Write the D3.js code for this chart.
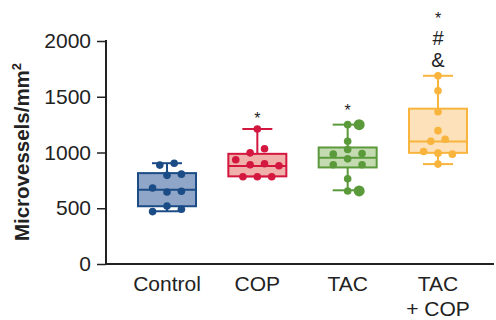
<!doctype html>
<html>
<head>
<meta charset="UTF-8">
<script src="https://d3js.org/d3.v7.min.js"></script>
<style>
  body { margin: 0; background: #fff; }
  text { font-family: "Liberation Sans", Arial, sans-serif; }
</style>
</head>
<body>
<script>
  var width = 496, height = 320;

  var groups = ["Control", "COP", "TAC", "TAC + COP"];
  // box stats: [whiskerLow, q1, median, q3, whiskerHigh]
  var stats = [
    [473, 518, 667, 815, 904],
    [786, 786, 878, 988, 1211],
    [661, 866, 952, 1045, 1250],
    [896, 997, 1098, 1393, 1688]
  ];
  // individual values and their jitter lane
  var pointsControl = [887, 904, 795, 806, 681, 646, 652, 520, 491, 470];
  var lanesControl  = [-1, 1, 0, 2, -2, 0, 2, 0, 2, -2];
  var pointsCOP = [1211, 997, 1033, 935, 890, 899, 881, 783, 783, 783];
  var lanesCOP  = [0, -1, 1, -3, -1, 1, 3, -2, 0, 2];
  var pointsTAC = [1250, 1101, 1027, 985, 991, 943, 890, 890, 765, 655];
  var lanesTAC  = [0, 0, 0, -2, 2, 0, -2, 2, 0, 0];
  var bigTAC = [1250, 655];
  var pointsTC = [1688, 1554, 1366, 1196, 1101, 1119, 1009, 994, 985, 896];
  var lanesTC  = [0, 0, 0, 0, -1, 1, -2, 0, 2, 0];
  var marks = [[], ["*"], ["*"], ["*", "#", "&"]];

  var strokes = ["#1b4c86", "#d3173f", "#5b9a3b", "#f8b43c"];
  var fills = ["#90a6c8", "#efb1aa", "#c4dbb2", "#fde1bb"];

  var pts = [
    pointsControl.map(function (v, i) { return { v: v, l: lanesControl[i] }; }),
    pointsCOP.map(function (v, i) { return { v: v, l: lanesCOP[i] }; }),
    pointsTAC.map(function (v, i) { return { v: v, l: lanesTAC[i] }; }),
    pointsTC.map(function (v, i) { return { v: v, l: lanesTC[i] }; })
  ];

  var svg = d3.select("body").append("svg")
    .attr("width", width).attr("height", height);

  var y = d3.scaleLinear().domain([0, 2000]).range([264, 41]);
  var x = d3.scalePoint().domain(groups).range([167, 438]);
  var bw = 58;
  var lane = 7.2;

  // y axis
  var yAxis = d3.axisLeft(y).tickValues([0, 500, 1000, 1500, 2000])
    .tickFormat(d3.format("d")).tickSize(9).tickPadding(6);
  var ga = svg.append("g").attr("transform", "translate(106,0)").call(yAxis);
  ga.select(".domain").attr("stroke", "#222").attr("stroke-width", 2).attr("d", "M0,40V265");
  ga.selectAll(".tick line").attr("stroke", "#222").attr("stroke-width", 1.5);
  ga.selectAll(".tick text").attr("font-size", 21).attr("fill", "#222")
    .attr("font-family", "Liberation Sans, Arial, sans-serif");

  // x axis line
  svg.append("line").attr("x1", 105).attr("x2", 494).attr("y1", 264).attr("y2", 264)
    .attr("stroke", "#222").attr("stroke-width", 2);

  // x labels
  groups.forEach(function (g) {
    var lines = g === "TAC + COP" ? ["TAC", "+ COP"] : [g];
    lines.forEach(function (t, j) {
      svg.append("text").attr("x", x(g)).attr("y", 291 + j * 24.5)
        .attr("text-anchor", "middle").attr("font-size", 21).attr("fill", "#222").text(t);
    });
  });

  // y title
  var yt = svg.append("text").attr("transform", "translate(29,152) rotate(-90)")
    .attr("text-anchor", "middle").attr("font-size", 20.5).attr("font-weight", "bold").attr("fill", "#222");
  yt.append("tspan").text("Microvessels/mm");
  yt.append("tspan").attr("font-size", 13).attr("dy", -8).text("2");

  // centre of first significance mark per group, then spacing
  var markTop = [0, 115, 107, 15];

  groups.forEach(function (g, i) {
    var s = stats[i];
    var cx = x(g), x0 = cx - bw / 2;
    var gg = svg.append("g");
    var col = strokes[i];
    // whiskers
    gg.append("line").attr("x1", cx).attr("x2", cx).attr("y1", y(s[3])).attr("y2", y(s[4]))
      .attr("stroke", col).attr("stroke-width", 2);
    gg.append("line").attr("x1", cx).attr("x2", cx).attr("y1", y(s[1])).attr("y2", y(s[0]))
      .attr("stroke", col).attr("stroke-width", 2);
    [s[0], s[4]].forEach(function (v) {
      gg.append("line").attr("x1", cx - 15).attr("x2", cx + 15).attr("y1", y(v)).attr("y2", y(v))
        .attr("stroke", col).attr("stroke-width", 2);
    });
    // box
    gg.append("rect").attr("x", x0).attr("width", bw).attr("y", y(s[3])).attr("height", y(s[1]) - y(s[3]))
      .attr("fill", fills[i]).attr("stroke", col).attr("stroke-width", 2);
    gg.append("line").attr("x1", x0).attr("x2", x0 + bw).attr("y1", y(s[2])).attr("y2", y(s[2]))
      .attr("stroke", col).attr("stroke-width", 2);
    // points
    gg.selectAll("circle").data(pts[i]).enter().append("circle")
      .attr("cx", function (d) { return cx + d.l * lane; })
      .attr("cy", function (d) { return y(d.v); })
      .attr("r", 3.8).attr("fill", col);
    // significance marks
    marks[i].forEach(function (m, j) {
      var c = markTop[i] + j * 22.5;
      svg.append("text").attr("x", cx).attr("y", c + (m === "*" ? 9 : 7))
        .attr("text-anchor", "middle").attr("font-size", m === "*" ? 16 : 20).attr("fill", "#222").text(m);
    });
  });

  // two enlarged TAC points
  svg.selectAll("circle.big").data(bigTAC).enter().append("circle").attr("class", "big")
    .attr("cx", x("TAC") + 11.5).attr("cy", function (d) { return y(d); })
    .attr("r", 5.5).attr("fill", strokes[2]);
</script>
</body>
</html>
